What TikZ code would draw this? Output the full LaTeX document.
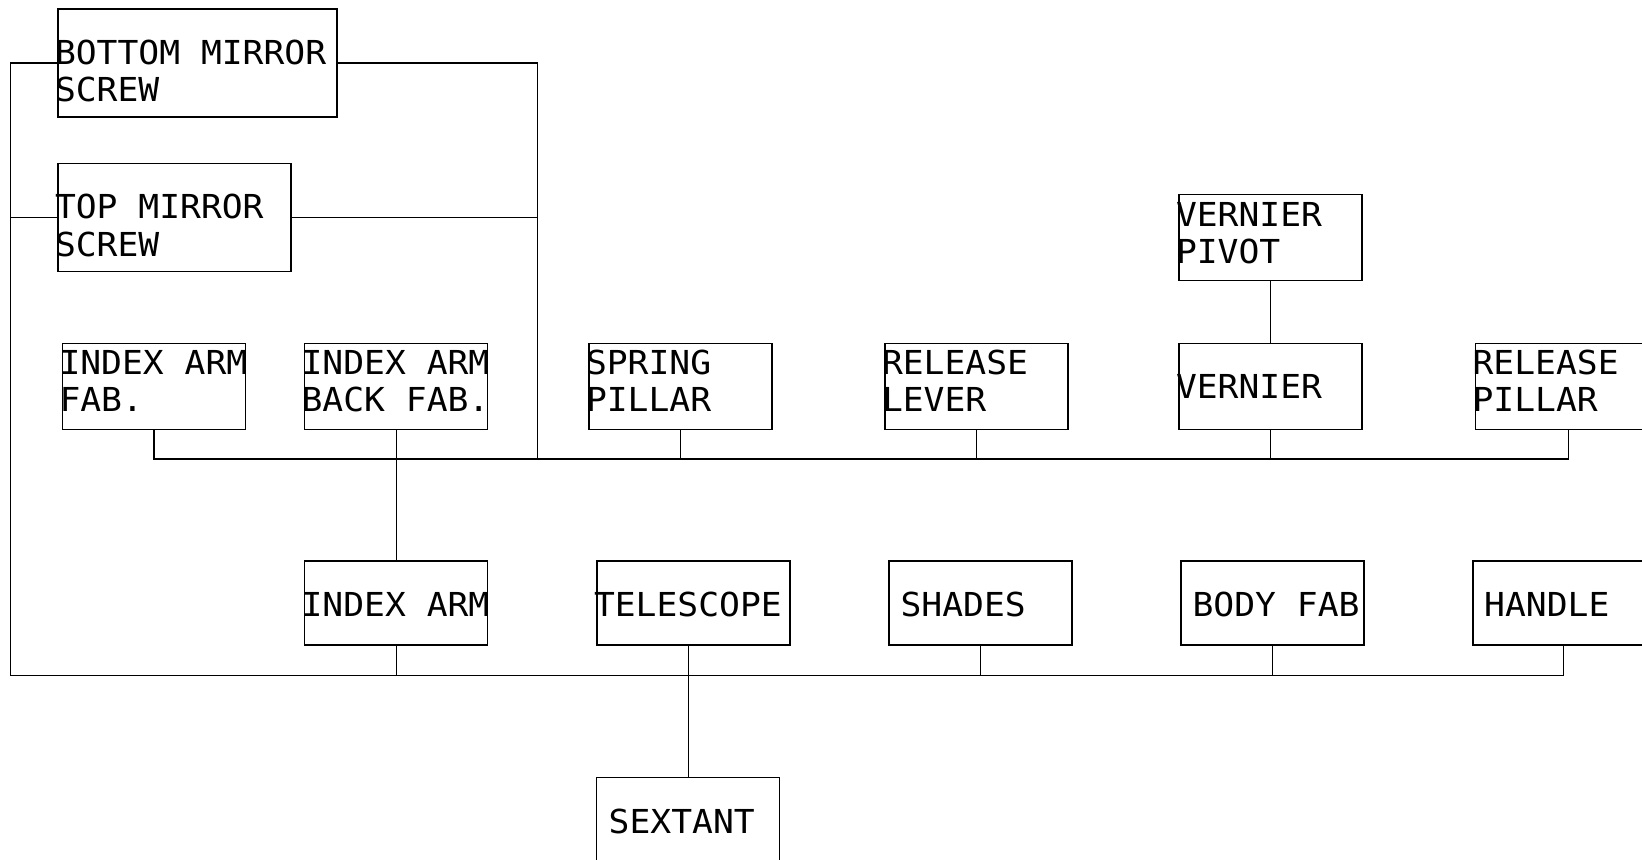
\documentclass[tikz,border=0pt]{standalone}
\usepackage{fontspec}
\newfontfamily\cadfont[FakeStretch=1.05]{DejaVu Sans Mono}
\begin{document}
\begin{tikzpicture}[x=0.5pt,y=-0.5pt, line width=0.6pt,
  bx/.style 2 args={draw, rectangle, anchor=north west, inner sep=0pt, outer sep=0pt,
    minimum width={#1*0.5pt}, minimum height={#2*0.5pt}},
  txt/.style={anchor=base west, inner sep=0pt, outer sep=0pt,
    font=\cadfont\fontsize{16.5pt}{19pt}\selectfont}]
\fill[white] (0,0) rectangle (1642,859);
\clip (0,0) rectangle (1642,859);
% boxes
\node[bx={279}{108}] (bms) at (58,9) {};
\node[bx={233}{108}] (tms) at (58,163.3) {};
\node[bx={183}{86}] (iaf) at (62.5,343.3) {};
\node[bx={183}{86}] (iabf) at (304.6,343.3) {};
\node[bx={183}{86}] (sp) at (589,343.3) {};
\node[bx={183}{86}] (rl) at (885,343.3) {};
\node[bx={183}{86}] (vp) at (1179,194.7) {};
\node[bx={183}{86}] (ver) at (1179,343.3) {};
\node[bx={185}{86}] (rp) at (1475.6,343.3) {};
\node[bx={183}{84}] (ia) at (304.6,561) {};
\node[bx={193}{84}] (tel) at (597,561) {};
\node[bx={183}{84}] (sha) at (889,561) {};
\node[bx={183}{84}] (bf) at (1181,561) {};
\node[bx={181}{84}] (han) at (1473,561) {};
\node[bx={183}{86}] (sex) at (596.7,777.3) {};
% texts
\node[txt] (t1a) at (55,64) {BOTTOM MIRROR};
\node[txt] (t1b) at (55,101.7) {SCREW};
\node[txt] (t2a) at (55,218.3) {TOP MIRROR};
\node[txt] (t2b) at (55,256.7) {SCREW};
\node[txt] (t3a) at (59.5,374.3) {INDEX ARM};
\node[txt] (t3b) at (59.5,411.7) {FAB.};
\node[txt] (t4a) at (301.6,374.3) {INDEX ARM};
\node[txt] (t4b) at (301.6,411.7) {BACK FAB.};
\node[txt] (t5a) at (586,374.3) {SPRING};
\node[txt] (t5b) at (586,411.7) {PILLAR};
\node[txt] (t6a) at (882,374.3) {RELEASE};
\node[txt] (t6b) at (882,411.7) {LEVER};
\node[txt] (t7a) at (1176,226) {VERNIER};
\node[txt] (t7b) at (1176,263.3) {PIVOT};
\node[txt] (t8) at (1176,398.3) {VERNIER};
\node[txt] (t9a) at (1472.6,374.3) {RELEASE};
\node[txt] (t9b) at (1472.6,411.7) {PILLAR};
\node[txt] (t10) at (301.6,616.7) {INDEX ARM};
\node[txt] (t11) at (594,616.7) {TELESCOPE};
\node[txt] (t12) at (900.6,616.7) {SHADES};
\node[txt] (t13) at (1192.6,616.7) {BODY FAB};
\node[txt] (t14) at (1484.2,616.7) {HANDLE};
\node[txt] (t15) at (608.7,833.3) {SEXTANT};
% connector helpers
\coordinate (L) at (10.5,0);
\coordinate (R) at (537.5,0);
\coordinate (bus1) at (0,459);
\coordinate (bus2) at (0,675.7);
% connectors
\draw (bms.west) -- (bms.west -| L) -- (L |- bus2) -| (han.south);
\draw (tms.west) -- (tms.west -| L);
\draw (bms.east) -- (bms.east -| R) -- (R |- bus1);
\draw (tms.east) -- (tms.east -| R);
\draw (iaf.south) |- (rp.south |- bus1) -- (rp.south);
\draw (iabf.south) -- (ia.north);
\draw (sp.south) -- (sp.south |- bus1);
\draw (rl.south) -- (rl.south |- bus1);
\draw (ver.south) -- (ver.south |- bus1);
\draw (vp.south) -- (ver.north);
\draw (ia.south) -- (ia.south |- bus2);
\draw (sha.south) -- (sha.south |- bus2);
\draw (bf.south) -- (bf.south |- bus2);
\draw (sex.north) -- (sex.north |- tel.south);
\end{tikzpicture}
\end{document}
